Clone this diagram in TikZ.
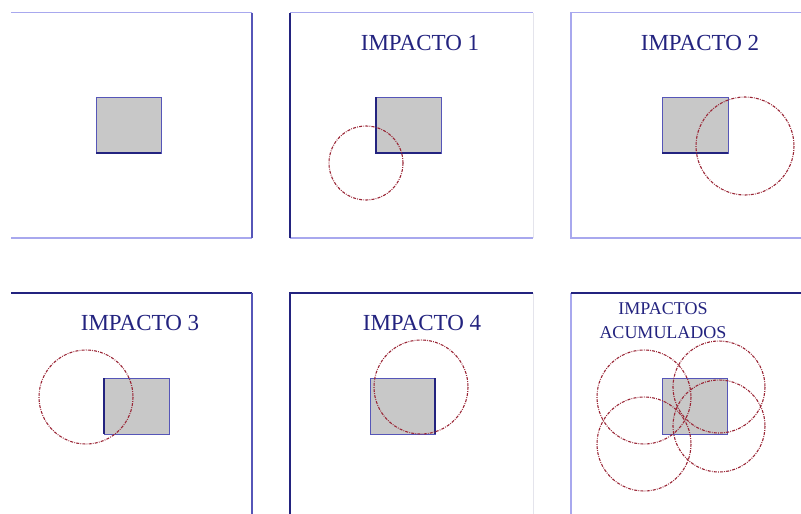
\documentclass[tikz,border=0pt]{standalone}
\usepackage{fontspec}
\setmainfont{Liberation Serif}

\definecolor{navy}{HTML}{23237F}
\definecolor{lilac}{HTML}{A8A8EE}
\definecolor{midblue}{HTML}{5656B8}
\definecolor{faint}{HTML}{E4E4EC}
\definecolor{target}{HTML}{C8C8C8}
\definecolor{hit}{HTML}{9A2636}

\tikzset{
  edge/.style={line width=1.6pt,lilac},
  edgedark/.style={line width=1.4pt,navy},
  edgemid/.style={line width=1.4pt,midblue},
  edgefaint/.style={line width=1pt,faint},
  target/.style={fill=target,draw=midblue,line width=0.8pt},
  targetbase/.style={navy,line width=1.2pt},
  impact/.style={hit,line width=1.1pt,dash pattern=on 3pt off 1.2pt on 0.8pt off 1.2pt},
  title/.style={navy,font=\fontsize{23}{24}\selectfont,inner sep=0pt}
}

\begin{document}
\begin{tikzpicture}[x=1pt,y=-1pt]
  \useasboundingbox (0,0) rectangle (801,514);
  % frames
  \draw[edge] (11,12.5) -- (252,12.5); \draw[edge] (11,238) -- (252,238); \draw[edgemid] (252,12.5) -- (252,238);
  \draw[edge] (290,12.5) -- (533,12.5); \draw[edge] (290,238) -- (533,238); \draw[edgefaint] (533,12.5) -- (533,238); \draw[edgedark] (290,12.5) -- (290,238);
  \draw[edge] (801,12.5) -- (571,12.5) -- (571,238) -- (801,238);
  \draw[edgedark] (11,293) -- (252,293); \draw[edgemid] (252,293) -- (252,514);
  \draw[edgefaint] (533,293) -- (533,514); \draw[edgedark] (290,514) -- (290,293) -- (533,293);
  \draw[edge] (571,514) -- (571,293); \draw[edgedark] (571,293) -- (801,293);
  % targets
  \draw[target] (96,97) rectangle (161,153);   \draw[targetbase] (96,153) -- (161,153);
  \draw[target] (376,97) rectangle (441,153);  \draw[targetbase] (376,97) -- (376,153) -- (441,153);
  \draw[target] (662,97) rectangle (728,153);  \draw[targetbase] (662,153) -- (728,153);
  \draw[target] (104,378) rectangle (169,434); \draw[targetbase] (104,378) -- (104,434);
  \draw[target] (370,378) rectangle (435,434); \draw[targetbase] (435,378) -- (435,434);
  \draw[target] (662,378) rectangle (727,434);
  % impacts
  \draw[impact] (366,163) circle (37);
  \draw[impact] (745,146) circle (49);
  \draw[impact] (86,397) circle (47);
  \draw[impact] (421,387) circle (47);
  \foreach \cx/\cy/\r in {644/397/47, 719/387/46, 644/444/47, 719/426/46}
    \draw[impact] (\cx,\cy) circle (\r);
  % titles
  \node[title] (imp1) at (420,43) {IMPACTO 1};
  \node[title] (imp2) at (700,43) {IMPACTO 2};
  \node[title] (imp3) at (140,323) {IMPACTO 3};
  \node[title] (imp4) at (422,323) {IMPACTO 4};
  \node[title,font=\fontsize{18}{24}\selectfont,align=center] (acum) at (663,321) {IMPACTOS\\ACUMULADOS};
\end{tikzpicture}
\end{document}
